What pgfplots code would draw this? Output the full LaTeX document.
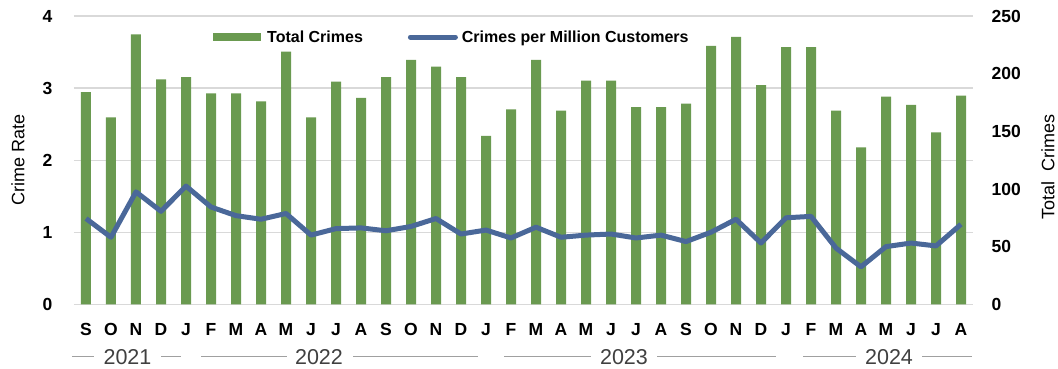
\documentclass[border=0pt]{standalone}
\usepackage{pgfplots}
\usepackage{pgfplotstable}
\pgfplotsset{compat=1.18}
\usepackage{fontspec}
\setmainfont{Liberation Sans}
\definecolor{barg}{HTML}{6A9A50}
\definecolor{lineb}{HTML}{4A6899}
\definecolor{gridc}{HTML}{D9D9D9}
\definecolor{yearc}{HTML}{404040}
\definecolor{yearl}{HTML}{A0A0A0}

\pgfplotstableread{
x total rate
0 184 1.19
1 162 0.93
2 234 1.56
3 195 1.29
4 197 1.64
5 183 1.35
6 183 1.23
7 176 1.18
8 219 1.26
9 162 0.96
10 193 1.05
11 179 1.06
12 197 1.02
13 212 1.08
14 206 1.19
15 197 0.975
16 146 1.03
17 169 0.92
18 212 1.07
19 168 0.93
20 194 0.96
21 194 0.975
22 171 0.92
23 171 0.96
24 174 0.87
25 224 1.00
26 232 1.18
27 190 0.85
28 223 1.20
29 223 1.22
30 168 0.78
31 136 0.52
32 180 0.80
33 173 0.85
34 149 0.81
35 181 1.11
}\datatable

\pgfplotsset{
  common/.style={
    scale only axis, width=899pt, height=288.3pt,
    xmin=-0.48, xmax=35.48,
    clip=false,
    major tick length=0pt,
    /pgf/number format/assume math mode=true,
    tick label style={font=\bfseries\fontsize{17.5}{17.5}\selectfont},
  }
}

\begin{document}
\begin{tikzpicture}
\begin{axis}[common,
  ymin=0, ymax=250,
  axis y line*=right,
  axis x line*=bottom,
  x axis line style={draw=none},
  y axis line style={draw=none},
  ytick={0,50,...,250},
  extra y ticks={0,62.5,125,187.5,250},
  extra y tick labels={},
  extra y tick style={grid=major, major grid style={gridc, line width=1.2pt}},
  yticklabel style={anchor=west, xshift=15pt},
  xtick={0,...,35},
  xticklabels={S,O,N,D,J,F,M,A,M,J,J,A,S,O,N,D,J,F,M,A,M,J,J,A,S,O,N,D,J,F,M,A,M,J,J,A},
  xticklabel style={anchor=center, yshift=-25pt},
  ylabel={Total\ \ Crimes},
  ylabel style={at={(axis description cs:1.0834,0.476)}, anchor=center, rotate=0, font=\fontsize{18}{18}\selectfont},
]
\addplot[ybar, bar width=10pt, fill=barg, draw=none] table[x=x, y=total] {\datatable};
\coordinate (sw) at (rel axis cs:0,0);
\coordinate (ne) at (rel axis cs:1,1);
% year group labels
\begin{scope}[yearl, line width=1pt]
\draw ([yshift=-52.4pt]axis cs:-0.56,0) -- ([yshift=-52.4pt]axis cs:0.32,0);
\draw ([yshift=-52.4pt]axis cs:3.0,0) -- ([yshift=-52.4pt]axis cs:3.8,0);
\draw ([yshift=-52.4pt]axis cs:4.6,0) -- ([yshift=-52.4pt]axis cs:8.04,0);
\draw ([yshift=-52.4pt]axis cs:10.68,0) -- ([yshift=-52.4pt]axis cs:15.68,0);
\draw ([yshift=-52.4pt]axis cs:16.72,0) -- ([yshift=-52.4pt]axis cs:20.2,0);
\draw ([yshift=-52.4pt]axis cs:22.84,0) -- ([yshift=-52.4pt]axis cs:27.6,0);
\draw ([yshift=-52.4pt]axis cs:28.68,0) -- ([yshift=-52.4pt]axis cs:30.8,0);
\draw ([yshift=-52.4pt]axis cs:33.44,0) -- ([yshift=-52.4pt]axis cs:35.44,0);
\end{scope}
\begin{scope}[every node/.style={text=yearc, font=\fontsize{21.5}{21.5}\selectfont, anchor=center, inner sep=0pt}]
\node at ([yshift=-52.4pt]axis cs:1.66,0) {2021};
\node at ([yshift=-52.4pt]axis cs:9.32,0) {2022};
\node at ([yshift=-52.4pt]axis cs:21.52,0) {2023};
\node at ([yshift=-52.4pt]axis cs:32.12,0) {2024};
\end{scope}
\end{axis}

\begin{axis}[common,
  ymin=0, ymax=4,
  axis y line*=left,
  axis x line=none,
  y axis line style={draw=none},
  ytick={0,1,2,3,4},
  yticklabel style={anchor=east, xshift=-18pt},
  ylabel={Crime Rate},
  ylabel style={at={(axis description cs:-0.0623,0.5)}, anchor=center, font=\fontsize{18}{18}\selectfont},
  legend columns=2,
  legend style={at={(0.1546,0.927)}, anchor=west, draw=none, fill=none, inner sep=0pt,
    font=\bfseries\fontsize{16}{16}\selectfont,
    nodes={inner sep=2pt},
    /tikz/every even column/.append style={column sep=43pt}},
]
\addlegendimage{legend image code/.code={\fill[barg, draw=none] (0pt,-4pt) rectangle (48pt,4pt); \path[draw=none] (0pt,0pt) -- (52pt,0pt);}}
\addlegendentry{Total Crimes}
\addplot[lineb, line width=5pt, line join=round,
  legend image code/.code={\draw[lineb, line width=5pt, line cap=round] (2.5pt,0pt) -- (47.5pt,0pt); \path[draw=none] (0pt,0pt) -- (52pt,0pt);}]
  table[x=x, y=rate] {\datatable};
\addlegendentry{Crimes per Million Customers}
\end{axis}

\pgfresetboundingbox
\useasboundingbox ([xshift=-74pt, yshift=-64.7pt]sw) rectangle ([xshift=85pt, yshift=16pt]ne);
\end{tikzpicture}
\end{document}
